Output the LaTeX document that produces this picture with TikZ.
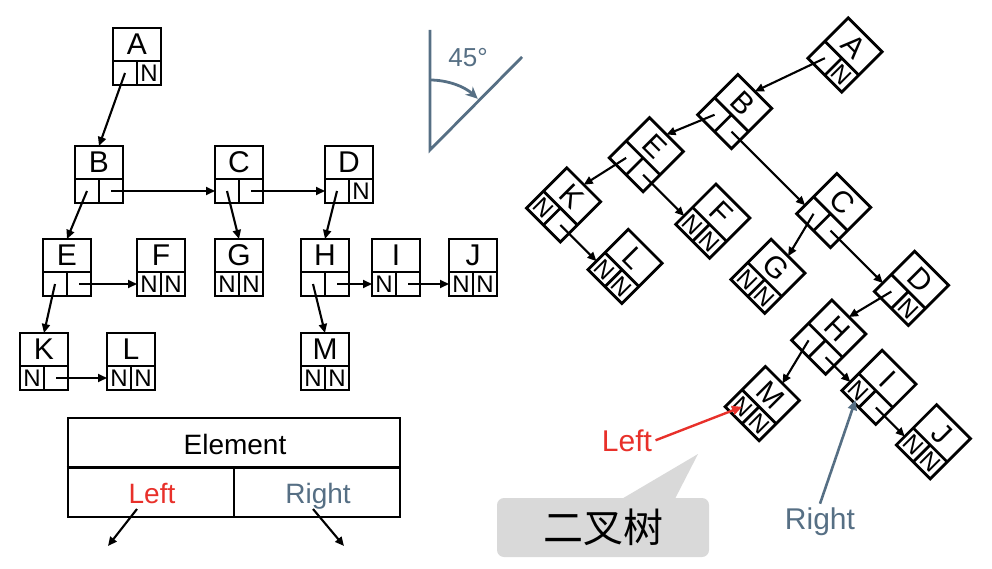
\documentclass[tikz,border=0pt]{standalone}
\usepackage{fontspec}
\setmainfont{Liberation Sans}
\newfontfamily\cjk{Noto Sans CJK SC}
\usetikzlibrary{arrows.meta,calc}

\definecolor{leftred}{RGB}{232,48,42}
\definecolor{rightblue}{RGB}{86,111,132}
\definecolor{taggray}{RGB}{217,217,217}

\tikzset{
  nodebox/.style={draw, line width=2.8pt, minimum width=48pt, minimum height=57pt, inner sep=0pt, outer sep=0pt},
  boxline/.style={line width=2.8pt},
  letter/.style={font=\fontsize{30}{30}\selectfont, inner sep=0pt},
  ptrcell/.style={font=\fontsize{24}{24}\selectfont, inner sep=0pt},
  ptr/.style={line width=2.1pt, -{Triangle[length=9pt,width=8pt]}},
  angleline/.style={rightblue, line width=2.8pt},
}

% one list node: name, x, y, letter, left cell, right cell
\newcommand{\listnode}[6]{%
  \node[nodebox] (#1) at (#2,#3) {};
  \draw[boxline] (#2-24,#3-4.5) -- (#2+24,#3-4.5)
                 (#2,#3-4.5) -- (#2,#3-28.5);
  \node[letter] (#1-t) at (#2,#3+12) {#4};
  \node[ptrcell] (#1-l) at (#2-12,#3-16.5) {#5};
  \node[ptrcell] (#1-r) at (#2+12,#3-16.5) {#6};
  \coordinate (#1-in) at (#2-24,#3-16.5);
}

\newcommand{\bintree}{%
  \listnode{A}{0}{0}{A}{}{N}
  \listnode{B}{-38}{-118}{B}{}{}
  \listnode{C}{102}{-118}{C}{}{}
  \listnode{D}{212}{-118}{D}{}{N}
  \listnode{E}{-70}{-211}{E}{}{}
  \listnode{F}{24}{-211}{F}{N}{N}
  \listnode{G}{102}{-211}{G}{N}{N}
  \listnode{H}{188}{-211}{H}{}{}
  \listnode{I}{259}{-211}{I}{N}{}
  \listnode{J}{336}{-211}{J}{N}{N}
  \listnode{K}{-93}{-305}{K}{N}{}
  \listnode{L}{-6}{-305}{L}{N}{N}
  \listnode{M}{188}{-305}{M}{N}{N}
  \draw[ptr] (A-l.center) -- (B.north);
  \draw[ptr] (B-l.center) -- (E.north);
  \draw[ptr] (B-r.center) -- (C-in);
  \draw[ptr] (C-l.center) -- (G.north);
  \draw[ptr] (C-r.center) -- (D-in);
  \draw[ptr] (D-l.center) -- (H.north);
  \draw[ptr] (E-l.center) -- (K.north);
  \draw[ptr] (E-r.center) -- (F-in);
  \draw[ptr] (H-l.center) -- (M.north);
  \draw[ptr] (H-r.center) -- (I-in);
  \draw[ptr] (I-r.center) -- (J-in);
  \draw[ptr] (K-r.center) -- (L-in);
}

\begin{document}
\begin{tikzpicture}[x=1pt,y=1pt]
\useasboundingbox (0,-569) rectangle (992,0);

% linked form
\begin{scope}[shift={(137,-56.5)}, name prefix=l-]
  \bintree
\end{scope}

% the same tree turned by 45 degrees
\begin{scope}[shift={(845,-55)}, rotate=-45, transform shape, name prefix=r-]
  \bintree
\end{scope}

% node layout
\node[draw, line width=2.8pt, minimum width=332pt, minimum height=99pt, inner sep=0pt] (elem) at (234,-467.5) {};
\draw[boxline] (elem.west) -- (elem.east);
\draw[boxline] (elem.center) -- (elem.center |- elem.south);
\node[font=\fontsize{28}{28}\selectfont, anchor=base] (elemtxt) at (235,-454) {Element};
\node[font=\fontsize{28}{28}\selectfont, text=leftred, anchor=base] (lefttxt) at (152,-503) {Left};
\node[font=\fontsize{28}{28}\selectfont, text=rightblue, anchor=base] (righttxt) at (318,-503) {Right};
\coordinate (leftend) at (108,-546);
\coordinate (rightend) at (344,-546);
\draw[line width=2.1pt, -{Triangle[length=9pt,width=8pt]}] (137,-509) -- (leftend);
\draw[line width=2.1pt, -{Triangle[length=9pt,width=8pt]}] (313,-509) -- (rightend);

% 45 degree mark
\coordinate (apex) at (430,-150);
\draw[angleline] (430,-30) -- (apex) -- (522,-57);
\draw[angleline, -{Stealth[length=12pt,width=11pt]}] ($(apex)+(0,70)$) arc[start angle=90, end angle=47, radius=70];
\node[font=\fontsize{26}{26}\selectfont, text=rightblue] (angtxt) at (468,-58) {45°};

% labels on the turned tree
\node[font=\fontsize{30}{30}\selectfont, text=leftred, anchor=base] (leftlbl) at (627,-451) {Left};
\draw[leftred, line width=2.4pt, -{Triangle[length=10pt,width=9pt]}] (leftlbl.east) -- (r-M-l.center);
\node[font=\fontsize{30}{30}\selectfont, text=rightblue, anchor=base] (rightlbl) at (820,-529) {Right};
\draw[rightblue, line width=2.6pt, shorten >=10pt, -{Triangle[length=10pt,width=9pt]}] (rightlbl.north) -- (r-I-l.center);

% callout
\node[fill=taggray, rounded corners=7pt, minimum width=212pt, minimum height=59pt, font=\cjk\fontsize{40}{40}\selectfont] (tag) at (603,-527.5) {二叉树};
\coordinate (tagtip) at (698,-454);
\fill[taggray] ($(tag.north)+(19,-1)$) -- (tagtip) -- ($(tag.north)+(72,-1)$) -- cycle;
\end{tikzpicture}
\end{document}
